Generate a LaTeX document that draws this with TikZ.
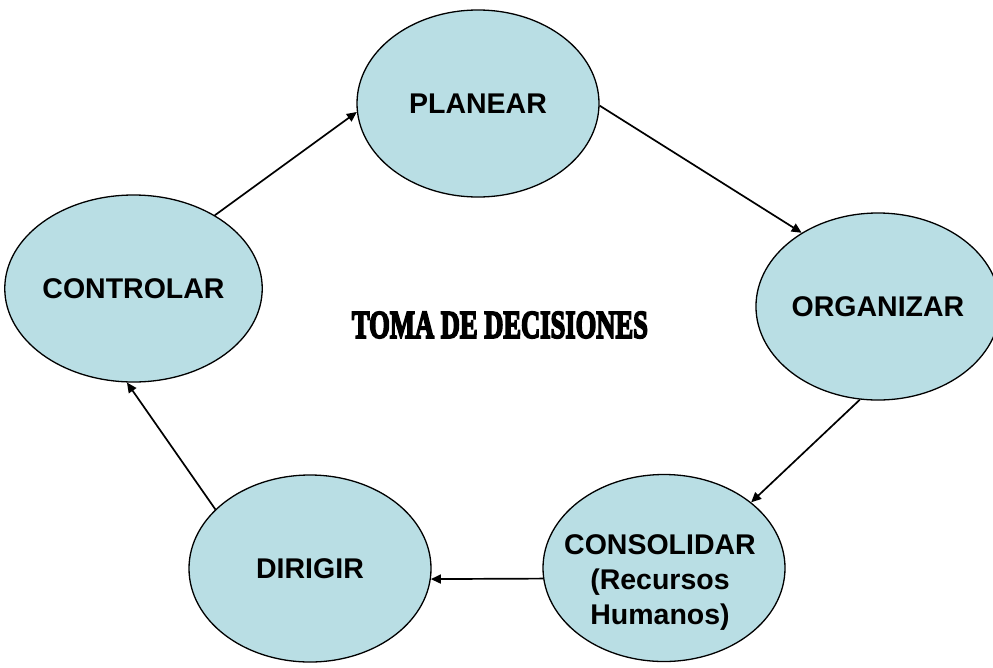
\documentclass[tikz,border=0pt]{standalone}
\usepackage{graphicx}
\usepackage{fontspec}
\setmainfont{Liberation Sans}
\newfontfamily\titlefont[BoldFeatures={FakeBold=5}]{Liberation Serif}
\usetikzlibrary{shapes.geometric,arrows.meta}
\definecolor{bub}{RGB}{185,222,228}
\begin{document}
\begin{tikzpicture}[x=1pt,y=-1pt,
  bubble/.style={ellipse,draw=black,line width=1.3pt,fill=bub,minimum width=242pt,minimum height=187pt,inner sep=0pt,align=center,font=\fontsize{28.5}{35}\selectfont\bfseries},
  lbl/.style={align=center,inner sep=0pt,font=\fontsize{28.5}{35}\selectfont\bfseries},
  flow/.style={-{Triangle[length=10pt,width=9pt]},line width=1.7pt}]
\useasboundingbox (0,0) rectangle (993,667);
\node[bubble] (p) at (478,103.5) {PLANEAR};
\node[bubble] (c) at (133.5,288.5) {CONTROLAR};
\node[bubble] (o) at (878,306.5) {ORGANIZAR};
\node[bubble] (s) at (664,568) {};
\node[lbl] (st) at (660,582) {CONSOLIDAR\\(Recursos\\Humanos)};
\node[bubble] (d) at (310,568.5) {DIRIGIR};
\node[inner sep=0pt] (t) at (500,325) {\resizebox{296pt}{26pt}{\titlefont\bfseries TOMA DE DECISIONES}};
\draw[flow] (c.42) -- (p.184);
\draw[flow] (p.359) -- (o.136);
\draw[flow] (o.259) -- (s.37);
\draw[flow] (s.185) -- (d.355);
\draw[flow] (d.148) -- (c.266);
\end{tikzpicture}
\end{document}
